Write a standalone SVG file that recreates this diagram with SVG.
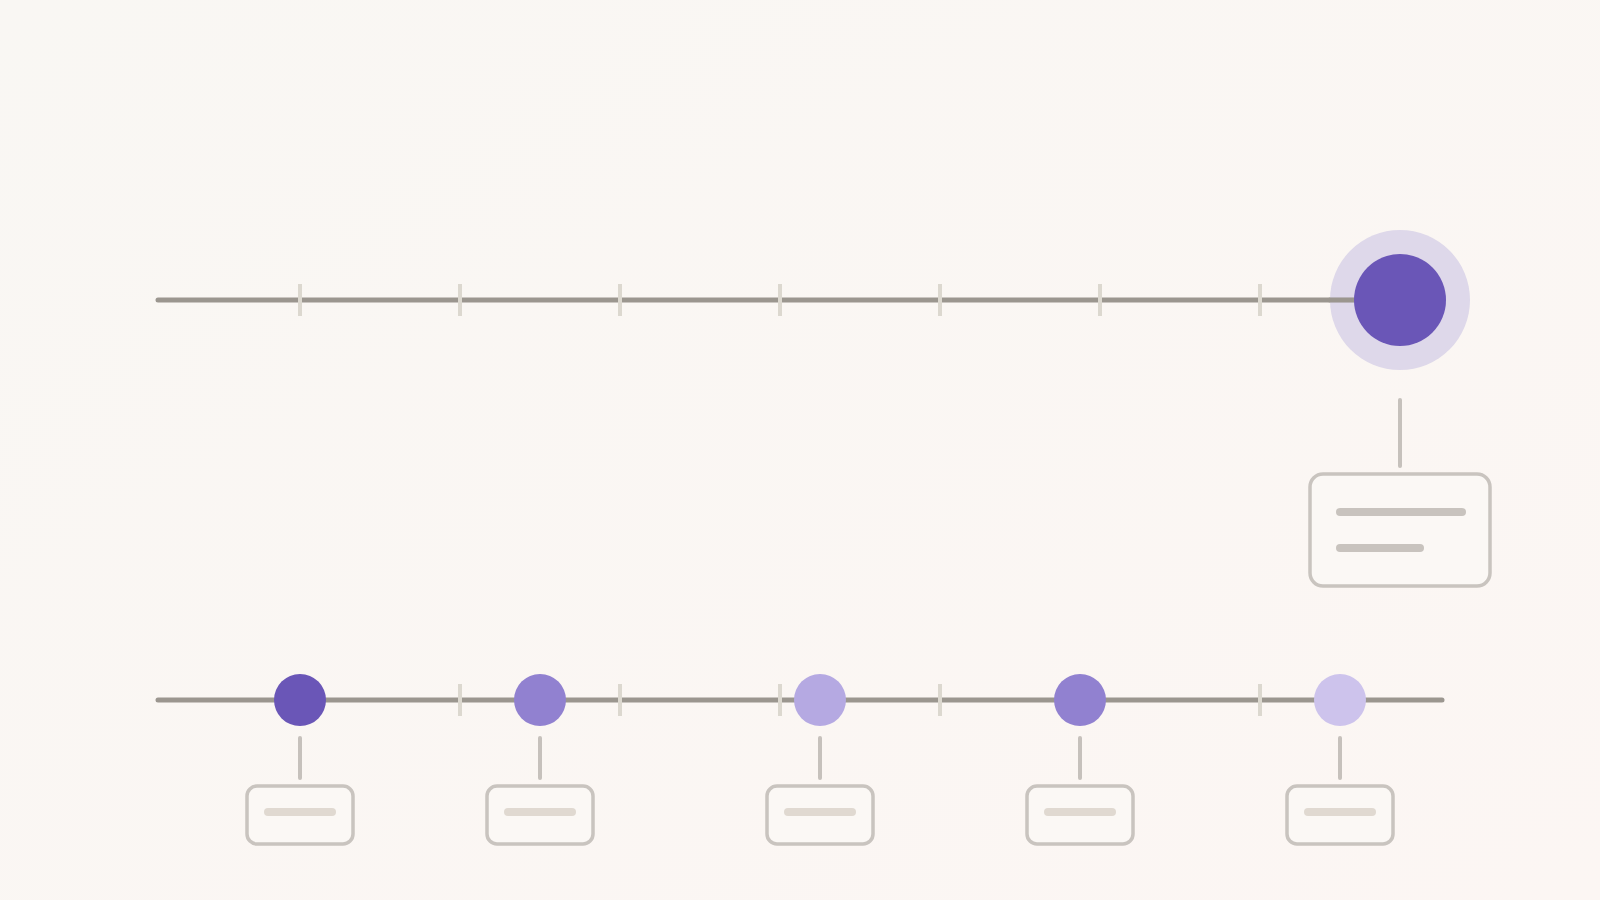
<svg xmlns="http://www.w3.org/2000/svg" width="1600" height="900" viewBox="0 0 1600 900">
<defs>
<linearGradient id="bg" x1="0" y1="0" x2="1" y2="1">
<stop offset="0" stop-color="#f9f7f3"/>
<stop offset="1" stop-color="#fcf6f3"/>
</linearGradient>
</defs>
<style>
.axis{stroke:#9b968f;stroke-width:5;stroke-linecap:round;fill:none}
.tick{stroke:#dcd8cf;stroke-width:4}
.conn{stroke:#c6c1bc;stroke-width:4;stroke-linecap:round}
.box{fill:#fbf8f5;stroke:#c9c4bf;stroke-width:3.5}
.bar{stroke-linecap:round;stroke-width:8}
.bar-dark{stroke:#c8c3be}
.bar-light{stroke:#e0d9d1}
</style>
<rect width="1600" height="900" fill="url(#bg)"/>
<g id="connectors">
<line class="axis" x1="158" y1="300" x2="1360" y2="300"/>
<line class="axis" x1="158" y1="700" x2="1442" y2="700"/>
<g id="ticks-top">
<line class="tick" x1="300" y1="284" x2="300" y2="316"/>
<line class="tick" x1="460" y1="284" x2="460" y2="316"/>
<line class="tick" x1="620" y1="284" x2="620" y2="316"/>
<line class="tick" x1="780" y1="284" x2="780" y2="316"/>
<line class="tick" x1="940" y1="284" x2="940" y2="316"/>
<line class="tick" x1="1100" y1="284" x2="1100" y2="316"/>
<line class="tick" x1="1260" y1="284" x2="1260" y2="316"/>
</g>
<g id="ticks-bottom">
<line class="tick" x1="460" y1="684" x2="460" y2="716"/>
<line class="tick" x1="620" y1="684" x2="620" y2="716"/>
<line class="tick" x1="780" y1="684" x2="780" y2="716"/>
<line class="tick" x1="940" y1="684" x2="940" y2="716"/>
<line class="tick" x1="1260" y1="684" x2="1260" y2="716"/>
</g>
<line class="conn" x1="1400" y1="400" x2="1400" y2="466"/>
<line class="conn" x1="300" y1="738" x2="300" y2="778"/>
<line class="conn" x1="540" y1="738" x2="540" y2="778"/>
<line class="conn" x1="820" y1="738" x2="820" y2="778"/>
<line class="conn" x1="1080" y1="738" x2="1080" y2="778"/>
<line class="conn" x1="1340" y1="738" x2="1340" y2="778"/>
</g>
<g id="node-current">
<circle cx="1400" cy="300" r="70" fill="#d8d2e8" fill-opacity="0.85"/>
<line class="axis" x1="1330" y1="300" x2="1360" y2="300" stroke-linecap="butt"/>
<circle cx="1400" cy="300" r="46" fill="#6a56b7"/>
</g>
<g id="card-current">
<rect class="box" x="1310" y="474" width="180" height="112" rx="13"/>
<line class="bar bar-dark" x1="1340" y1="512" x2="1462" y2="512"/>
<line class="bar bar-dark" x1="1340" y1="548" x2="1420" y2="548"/>
</g>
<g id="node-1">
<circle cx="300" cy="700" r="26" fill="#6a56b7"/>
<rect class="box" x="247" y="786" width="106" height="58" rx="10"/>
<line class="bar bar-light" x1="268" y1="812" x2="332" y2="812"/>
</g>
<g id="node-2">
<circle cx="540" cy="700" r="26" fill="#9181d0"/>
<rect class="box" x="487" y="786" width="106" height="58" rx="10"/>
<line class="bar bar-light" x1="508" y1="812" x2="572" y2="812"/>
</g>
<g id="node-3">
<circle cx="820" cy="700" r="26" fill="#b5a9e2"/>
<rect class="box" x="767" y="786" width="106" height="58" rx="10"/>
<line class="bar bar-light" x1="788" y1="812" x2="852" y2="812"/>
</g>
<g id="node-4">
<circle cx="1080" cy="700" r="26" fill="#9181d0"/>
<rect class="box" x="1027" y="786" width="106" height="58" rx="10"/>
<line class="bar bar-light" x1="1048" y1="812" x2="1112" y2="812"/>
</g>
<g id="node-5">
<circle cx="1340" cy="700" r="26" fill="#cdc3ec"/>
<rect class="box" x="1287" y="786" width="106" height="58" rx="10"/>
<line class="bar bar-light" x1="1308" y1="812" x2="1372" y2="812"/>
</g>
</svg>
